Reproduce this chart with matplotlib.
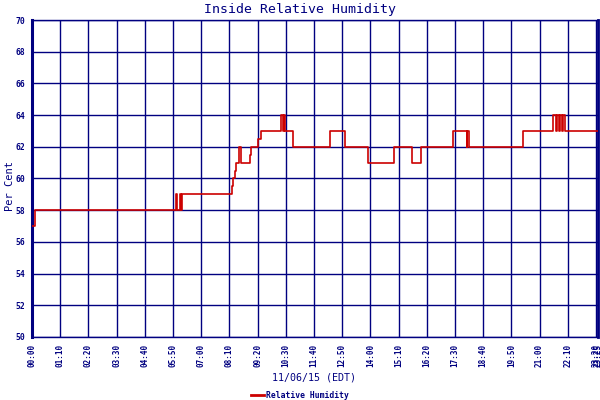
import matplotlib

matplotlib.use("Agg")
import matplotlib.pyplot as plt

AZUL = "#000080"
VERMELHO = "#cc0000"
FONTE = "DejaVu Sans Mono"

# minutos desde 00:00 e umidade relativa (%)
minutos = [0, 7, 357, 361, 367, 369, 372, 496, 500, 504, 506, 515, 519,
           540, 543, 562, 568, 617, 623, 626, 628, 647, 740, 777, 834,
           899, 944, 965, 1046, 1079, 1081, 1085, 1218, 1294, 1301, 1303,
           1308, 1311, 1316, 1318, 1323, 1405]
umidade = [57, 58, 59, 58, 59, 58, 59, 59.5, 60, 60.5, 61, 62, 61,
           61.5, 62, 62.5, 63, 64, 63, 64, 63, 62, 63, 62, 61,
           62, 61, 62, 63, 62, 63, 62, 63, 64, 63, 64,
           63, 64, 63, 64, 63, 63]

rotulos_x = ["00:00", "01:10", "02:20", "03:30", "04:40", "05:50", "07:00",
             "08:10", "09:20", "10:30", "11:40", "12:50", "14:00", "15:10",
             "16:20", "17:30", "18:40", "19:50", "21:00", "22:10", "23:20",
             "23:25"]
ticks_y = [50, 52, 54, 56, 58, 60, 62, 64, 66, 68, 70]


def para_minutos(rotulo):
    h, m = rotulo.split(":")
    return int(h) * 60 + int(m)


fig = plt.figure(figsize=(6, 4), dpi=100)
ax = fig.add_axes([32 / 600, 1 - 337 / 400, 566 / 600, 317 / 400])

ax.plot(minutos, umidade, drawstyle="steps-post", color=VERMELHO, lw=1.2,
        label="Relative Humidity", zorder=3)

pos_x = [para_minutos(r) for r in rotulos_x]
ax.set_xlim(0, pos_x[-1])
ax.set_ylim(50, 70)
ax.set_xticks(pos_x)
ax.set_xticklabels(rotulos_x, rotation=90, fontsize=5.5, fontweight="bold",
                   family=FONTE, color=AZUL)
ax.set_yticks(ticks_y)
ax.set_yticklabels([str(v) for v in ticks_y], fontsize=5.8, fontweight="bold",
                   family=FONTE, color=AZUL)
ax.tick_params(length=0, pad=5)
ax.grid(True, color=AZUL, lw=1.0)

for lado in ["top", "bottom", "right"]:
    ax.spines[lado].set_color(AZUL)
    ax.spines[lado].set_linewidth(1.0)
ax.spines["left"].set_color(AZUL)
ax.spines["left"].set_linewidth(2.2)
ax.spines["right"].set_linewidth(2.0)

fig.text(0.5, 1 - 9 / 400, "Inside Relative Humidity", ha="center",
         va="center", fontsize=9.5, family=FONTE, color=AZUL)
fig.text(314 / 600, 1 - 378 / 400, "11/06/15 (EDT)", ha="center",
         va="center", fontsize=7.2, family=FONTE, color=AZUL)
fig.text(10 / 600, 1 - 186 / 400, "Per Cent", ha="center", va="center",
         rotation=90, fontsize=7.5, family=FONTE, color=AZUL)

leg = fig.legend(loc="center", bbox_to_anchor=(300 / 600, 1 - 395 / 400),
                 frameon=False, handlelength=1.6, handletextpad=0.3,
                 prop={"family": FONTE, "size": 5.8, "weight": "bold"})
for t in leg.get_texts():
    t.set_color(AZUL)
for linha in leg.get_lines():
    linha.set_linewidth(2.0)

fig.savefig("out.png", dpi=100)
plt.close(fig)
